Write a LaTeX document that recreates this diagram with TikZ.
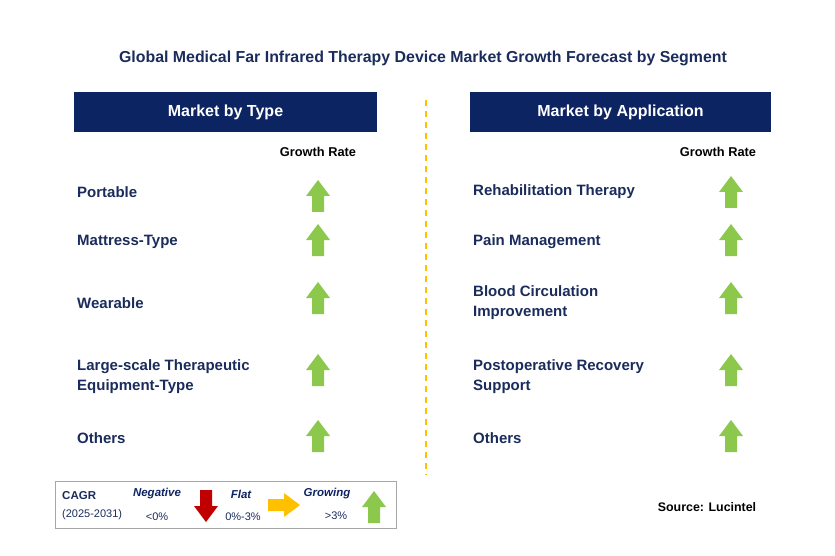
\documentclass[tikz,border=0pt]{standalone}
\usepackage{fontspec}
\setmainfont{Liberation Sans}
\definecolor{navy}{HTML}{0D2463}
\definecolor{txt}{HTML}{1A2C5B}
\definecolor{grn}{HTML}{8CC84B}
\definecolor{redd}{HTML}{C00000}
\definecolor{orng}{HTML}{FFC000}
\tikzset{
 hdr/.style={fill=navy,text=white,font=\bfseries\fontsize{16}{18}\selectfont,minimum height=40pt,inner sep=0pt},
 lbl/.style={anchor=west,text=txt,font=\bfseries\fontsize{15}{20}\selectfont,align=left,inner sep=0pt},
 gr/.style={text=black,font=\bfseries\fontsize{12.8}{14}\selectfont,inner sep=0pt},
 uparr/.pic={\fill[grn] (-6,16)--(-6,0)--(-12,0)--(0,-16)--(12,0)--(6,0)--(6,16)--cycle;},
 dnarr/.pic={\fill[redd] (-6,-16)--(-6,0)--(-12,0)--(0,16)--(12,0)--(6,0)--(6,-16)--cycle;},
 rarr/.pic={\fill[orng] (-16,-6)--(0,-6)--(0,-12)--(16,0)--(0,12)--(0,6)--(-16,6)--cycle;},
}
\begin{document}
\begin{tikzpicture}[x=1pt,y=-1pt]
\useasboundingbox (0,0) rectangle (835,556);
\node[text=txt,font=\bfseries\fontsize{15.9}{18}\selectfont] (title) at (423,58) {Global Medical Far Infrared Therapy Device Market Growth Forecast by Segment};
\node[hdr,minimum width=303pt] (h1) at (225.5,112) {Market by Type};
\node[hdr,minimum width=301pt] (h2) at (620.5,112) {Market by Application};
\coordinate (d1) at (426,100); \coordinate (d2) at (426,475);
\draw[orng,dashed,line width=1.5pt,dash pattern=on 6pt off 5pt] (d1)--(d2);
\node[gr] (g1) at (318,152) {Growth Rate};
\node[gr] (g2) at (718,152) {Growth Rate};
\node[lbl] (a1) at (77,192) {Portable};
\node[lbl] (a2) at (77,242) {Mattress-Type};
\node[lbl] (a3) at (77,303) {Wearable};
\node[lbl] (a4) at (77,377) {Large-scale Therapeutic\\Equipment-Type};
\node[lbl] (a5) at (77,438) {Others};
\node[lbl] (b1) at (473,192) {Rehabilitation Therapy};
\node[lbl] (b2) at (473,242) {Pain Management};
\node[lbl] (b3) at (473,303) {Blood Circulation\\Improvement};
\node[lbl] (b4) at (473,377) {Postoperative Recovery\\Support};
\node[lbl] (b5) at (473,438) {Others};
\foreach \y in {196,240,298,370,436} {\pic at (318,\y) {uparr};}
\foreach \y in {192,240,298,370,436} {\pic at (731,\y) {uparr};}
\node[draw=gray!70,line width=1pt,minimum width=341pt,minimum height=47pt] (leg) at (225.5,504.5) {};
\node[anchor=west,text=txt,font=\bfseries\fontsize{11.5}{13}\selectfont,inner sep=0pt] (c1) at (62,496) {CAGR};
\node[anchor=west,text=txt,font=\fontsize{11}{13}\selectfont,inner sep=0pt] (c2) at (62,515) {(2025-2031)};
\node[text=navy,font=\bfseries\itshape\fontsize{11.5}{13}\selectfont,inner sep=0pt] (n1) at (157,494) {Negative};
\node[text=txt,font=\fontsize{11}{13}\selectfont,inner sep=0pt] (n2) at (157,517) {<0\%};
\pic at (206,506) {dnarr};
\node[text=navy,font=\bfseries\itshape\fontsize{11.5}{13}\selectfont,inner sep=0pt] (f1) at (241,494) {Flat};
\node[text=txt,font=\fontsize{11}{13}\selectfont,inner sep=0pt] (f2) at (243,517) {0\%-3\%};
\pic at (284,505) {rarr};
\node[text=navy,font=\bfseries\itshape\fontsize{11.5}{13}\selectfont,inner sep=0pt] (w1) at (327,494) {Growing};
\node[text=txt,font=\fontsize{11}{13}\selectfont,inner sep=0pt] (w2) at (336,516) {>3\%};
\pic at (374,507) {uparr};
\node[text=black,font=\bfseries\fontsize{12.4}{14}\selectfont,inner sep=0pt] (src) at (707,507) {Source: Lucintel};
\end{tikzpicture}
\end{document}
